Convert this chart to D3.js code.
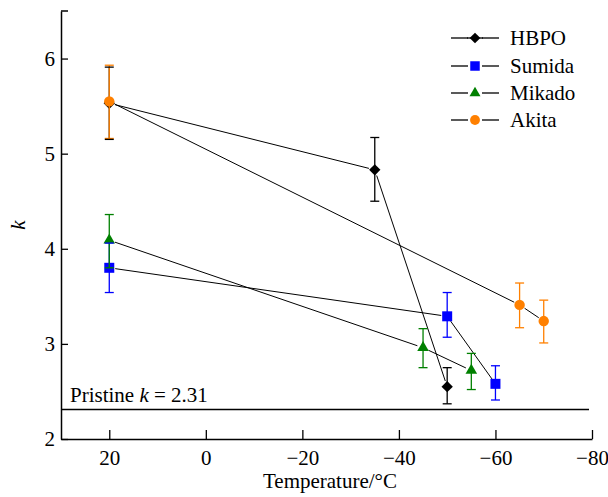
<!DOCTYPE html>
<head>
    <meta charset="utf-8">
    <script src="https://d3js.org/d3.v7.min.js"></script>
    <style>
        html, body { margin: 0; padding: 0; background: #fff; }
        svg { display: block; }
    </style>
</head>
<body>
<svg width="608" height="497"></svg>
<script>
    // data
    var seriesNames = ["HBPO", "Sumida", "Mikado", "Akita"];
    var hbpoT = [20, -35, -50];
    var hbpoK = [5.53, 4.83, 2.55];
    var hbpoErr = [[5.15, 5.91], [4.50, 5.17], [2.37, 2.75]];
    var sumidaT = [20, -50, -60];
    var sumidaK = [3.80, 3.29, 2.58];
    var sumidaErr = [[3.54, 4.06], [3.07, 3.54], [2.41, 2.77]];
    var mikadoT = [20, -45, -55];
    var mikadoK = [4.09, 2.96, 2.72];
    var mikadoErr = [[3.80, 4.36], [2.75, 3.16], [2.52, 2.90]];
    var akitaT = [20, -65, -70];
    var akitaK = [5.55, 3.41, 3.24];
    var akitaErr = [[5.16, 5.93], [3.17, 3.64], [3.01, 3.46]];
    var xTicks = [20, 0, -20, -40, -60, -80];
    var yTicks = [2, 3, 4, 5, 6];
    var pristineK = 2.31;

    var FONT = "'Liberation Serif', 'Times New Roman', serif";
    var colors = {HBPO: "#000000", Sumida: "#0000ff", Mikado: "#008000", Akita: "#ff8000"};
    var shapes = {HBPO: d3.symbolSquare, Sumida: d3.symbolSquare, Mikado: d3.symbolTriangle, Akita: d3.symbolCircle};
    var sizes = {HBPO: 64, Sumida: 100, Mikado: 58, Akita: 85};
    var rot = {HBPO: 45, Sumida: 0, Mikado: 0, Akita: 0};

    function pack(name, t, k, err) {
        return {id: name, values: t.map(function(d, i) { return {t: d, k: k[i], lo: err[i][0], hi: err[i][1]}; })};
    }
    var series = [
        pack("HBPO", hbpoT, hbpoK, hbpoErr),
        pack("Sumida", sumidaT, sumidaK, sumidaErr),
        pack("Mikado", mikadoT, mikadoK, mikadoErr),
        pack("Akita", akitaT, akitaK, akitaErr)
    ];

    var svg = d3.select("svg");
    var x = d3.scaleLinear().domain([30, -80]).range([61, 592]);
    var y = d3.scaleLinear().domain([2, 6.5]).range([439, 11]);

    var fmt = function(d) { return d < 0 ? "\u2212" + Math.abs(d) : String(d); };

    // axes (ticks inward)
    var xAxis = svg.append("g")
        .attr("transform", "translate(0," + y(2) + ")")
        .call(d3.axisBottom(x).tickValues(xTicks).tickFormat(fmt).tickSizeInner(-9).tickSizeOuter(0).tickPadding(11));
    var yAxis = svg.append("g")
        .attr("transform", "translate(" + x(30) + ",0)")
        .call(d3.axisLeft(y).tickValues(yTicks).tickFormat(d3.format("d")).tickSizeInner(-7).tickSizeOuter(0).tickPadding(6));
    [xAxis, yAxis].forEach(function(a) {
        a.attr("font-family", null).attr("font-size", null);
        a.select(".domain").attr("stroke", "#000").attr("stroke-width", 1.5);
        a.selectAll(".tick line").attr("stroke", "#000").attr("stroke-width", 1.3);
        a.selectAll(".tick text").style("font-family", FONT).style("font-size", "21px").attr("fill", "#000");
    });
    // top cap of y axis
    svg.append("line").attr("x1", x(30)).attr("x2", x(30) + 7)
        .attr("y1", y(6.5)).attr("y2", y(6.5)).attr("stroke", "#000").attr("stroke-width", 1.5);

    // axis titles
    svg.append("text").attr("x", 330).attr("y", 488).attr("text-anchor", "middle")
        .style("font-family", FONT).style("font-size", "21px").text("Temperature/\u00b0C");
    svg.append("text").attr("transform", "translate(25,225) rotate(-90)").attr("text-anchor", "middle")
        .style("font-family", FONT).style("font-size", "21px").style("font-style", "italic").text("k");

    // pristine reference line
    svg.append("line").attr("x1", x(30)).attr("x2", 589)
        .attr("y1", y(pristineK)).attr("y2", y(pristineK)).attr("stroke", "#000").attr("stroke-width", 1.3);
    var pt = svg.append("text").attr("x", 70).attr("y", y(pristineK) - 8)
        .style("font-family", FONT).style("font-size", "21px");
    pt.append("tspan").text("Pristine ");
    pt.append("tspan").style("font-style", "italic").text("k");
    pt.append("tspan").text(" = " + pristineK);

    // connecting lines, shortened near the markers
    var gap = 6;
    var segs = [];
    series.forEach(function(s) {
        for (var i = 0; i < s.values.length - 1; i++) segs.push([s.values[i], s.values[i + 1]]);
    });
    svg.append("g").selectAll("line").data(segs).enter().append("line")
        .each(function(d) {
            var x1 = x(d[0].t), y1 = y(d[0].k), x2 = x(d[1].t), y2 = y(d[1].k);
            var L = Math.hypot(x2 - x1, y2 - y1), ux = (x2 - x1) / L, uy = (y2 - y1) / L;
            d3.select(this).attr("x1", x1 + ux * gap).attr("y1", y1 + uy * gap)
                .attr("x2", x2 - ux * gap).attr("y2", y2 - uy * gap);
        })
        .attr("stroke", "#000").attr("stroke-width", 1);

    // error bar stems and markers
    var groups = svg.append("g").selectAll("g").data(series).enter().append("g");
    groups.selectAll(".stem").data(function(s) { return s.values.map(function(v) { return {id: s.id, v: v}; }); })
        .enter().append("line")
        .attr("x1", function(d) { return x(d.v.t); }).attr("x2", function(d) { return x(d.v.t); })
        .attr("y1", function(d) { return y(d.v.lo); }).attr("y2", function(d) { return y(d.v.hi); })
        .attr("stroke", function(d) { return colors[d.id]; }).attr("stroke-width", 1.3);
    groups.selectAll(".mark").data(function(s) { return s.values.map(function(v) { return {id: s.id, v: v}; }); })
        .enter().append("path")
        .attr("transform", function(d) { return "translate(" + x(d.v.t) + "," + y(d.v.k) + ") rotate(" + rot[d.id] + ")"; })
        .attr("d", function(d) { return d3.symbol().type(shapes[d.id]).size(sizes[d.id])(); })
        .attr("fill", function(d) { return colors[d.id]; });

    // caps drawn last
    var capData = [];
    ["Sumida", "Mikado", "Akita", "HBPO"].forEach(function(n) {
        var s = series.find(function(q) { return q.id === n; });
        s.values.forEach(function(v) { capData.push({id: n, t: v.t, k: v.lo}); capData.push({id: n, t: v.t, k: v.hi}); });
    });
    svg.append("g").selectAll("line").data(capData).enter().append("line")
        .attr("x1", function(d) { return x(d.t) - 4.5; }).attr("x2", function(d) { return x(d.t) + 4.5; })
        .attr("y1", function(d) { return y(d.k); }).attr("y2", function(d) { return y(d.k); })
        .attr("stroke", function(d) { return colors[d.id]; }).attr("stroke-width", 1.3);

    // legend
    var legend = svg.append("g").selectAll("g").data(seriesNames).enter().append("g")
        .attr("transform", function(d, i) { return "translate(475," + [38, 66, 93, 120][i] + ")"; });
    legend.append("line").attr("x1", -24).attr("x2", -7).attr("stroke", "#000").attr("stroke-width", 1.3);
    legend.append("line").attr("x1", 7).attr("x2", 24).attr("stroke", "#000").attr("stroke-width", 1.3);
    legend.filter(function(d) { return d === "HBPO"; }).append("line")
        .attr("x1", -8).attr("x2", 8).attr("stroke", "#000").attr("stroke-width", 1.3);
    legend.append("path")
        .attr("transform", function(d) { return "rotate(" + rot[d] + ")"; })
        .attr("d", function(d) { return d3.symbol().type(shapes[d]).size(sizes[d] * 0.9)(); })
        .attr("fill", function(d) { return colors[d]; });
    legend.append("text").attr("x", 35).attr("dy", "0.35em")
        .style("font-family", FONT).style("font-size", "21px")
        .text(function(d) { return d; });
</script>
</body>
